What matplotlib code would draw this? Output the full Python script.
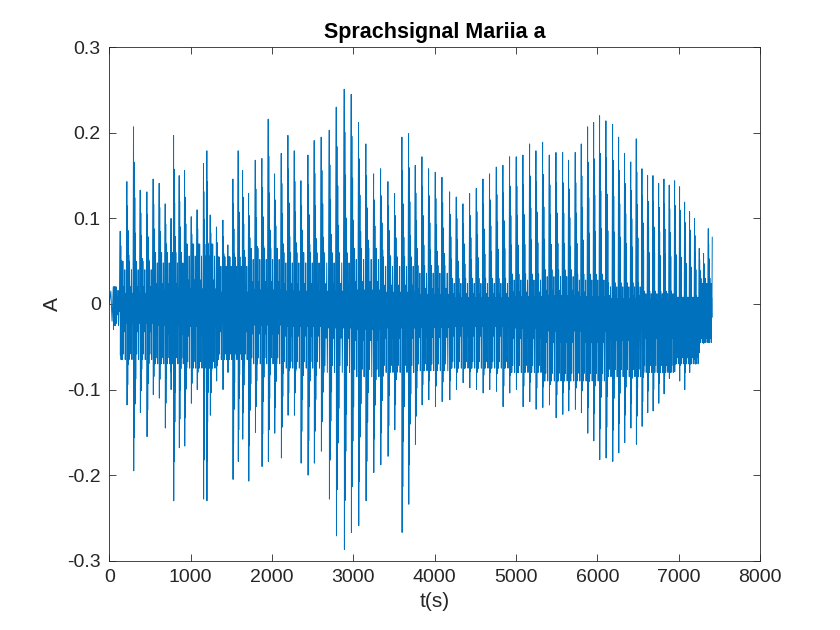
import matplotlib
matplotlib.use('Agg')
import matplotlib.pyplot as plt
import numpy as np

plt.rcParams['font.family'] = ['Liberation Sans', 'DejaVu Sans']
plt.rcParams['axes.unicode_minus'] = False

# pitch pulses: sample index, spike top, spike bottom
pulse_t = [50, 135, 217, 299, 381, 463, 540, 614, 688, 760, 791, 860, 926, 1008, 1080, 1159, 1200,
           1241, 1318, 1397, 1458, 1520, 1585, 1639, 1713, 1795, 1876, 1954, 2032, 2114, 2196, 2274, 2356, 2442, 2519,
           2605, 2704, 2790, 2888, 2974, 3064, 3154, 3249, 3335, 3425, 3507, 3597, 3679, 3761, 3843,
           3925, 4007, 4089, 4183, 4265, 4347, 4429, 4511, 4593, 4674, 4757, 4838, 4920, 5002, 5084, 5166,
           5244, 5326, 5408, 5490, 5572, 5645, 5727, 5801, 5879, 5953, 6026, 6104, 6186, 6260, 6333, 6409,
           6477, 6547, 6616, 6682, 6752, 6817, 6882, 6948, 7009, 7071, 7132, 7193, 7251, 7304, 7362, 7411]
pulse_hi = [0.02, 0.085, 0.143, 0.207, 0.133, 0.131, 0.146, 0.141, 0.117, 0.10, 0.197, 0.150, 0.156, 0.102, 0.11, 0.164, 0.179,
            0.104, 0.09, 0.098, 0.069, 0.146, 0.179, 0.156, 0.129, 0.168, 0.170, 0.216, 0.152, 0.176, 0.197, 0.179, 0.144, 0.174, 0.191,
            0.195, 0.203, 0.230, 0.251, 0.245, 0.212, 0.187, 0.152, 0.158, 0.143, 0.129, 0.195, 0.199, 0.162, 0.172,
            0.158, 0.154, 0.148, 0.131, 0.125, 0.117, 0.129, 0.135, 0.146, 0.152, 0.160, 0.162, 0.172, 0.172, 0.174, 0.187,
            0.179, 0.189, 0.174, 0.177, 0.177, 0.168, 0.177, 0.187, 0.207, 0.212, 0.220, 0.214, 0.210, 0.195, 0.176, 0.166,
            0.193, 0.158, 0.150, 0.150, 0.141, 0.146, 0.139, 0.144, 0.137, 0.119, 0.108, 0.100, 0.065, 0.059, 0.088, 0.078]
pulse_lo = [-0.03, -0.06, -0.118, -0.195, -0.127, -0.155, -0.106, -0.11, -0.145, -0.10, -0.230, -0.168, -0.166, -0.116, -0.10, -0.228, -0.230,
            -0.13, -0.09, -0.10, -0.08, -0.205, -0.184, -0.158, -0.207, -0.15, -0.19, -0.184, -0.151, -0.18, -0.13, -0.13, -0.186, -0.20, -0.186,
            -0.172, -0.228, -0.271, -0.287, -0.267, -0.259, -0.230, -0.197, -0.188, -0.178, -0.147, -0.267, -0.234, -0.164, -0.118,
            -0.112, -0.12, -0.114, -0.112, -0.10, -0.092, -0.098, -0.10, -0.104, -0.10, -0.102, -0.12, -0.104, -0.10, -0.12, -0.114,
            -0.123, -0.121, -0.118, -0.133, -0.129, -0.125, -0.123, -0.127, -0.151, -0.16, -0.182, -0.180, -0.184, -0.174, -0.162, -0.145,
            -0.164, -0.143, -0.127, -0.125, -0.116, -0.105, -0.087, -0.079, -0.09, -0.10, -0.08, -0.065, -0.057, -0.046, -0.011, -0.01]

# dense middle band of the signal, per stretch of samples
band_start = [0, 130, 500, 900, 1300, 1700, 2100, 2520, 2900, 3300, 3700, 4100,
              4500, 4900, 5300, 5700, 6100, 6500, 6900, 7200]
band_top = [0.02, 0.05, 0.06, 0.07, 0.055, 0.065, 0.06, 0.06, 0.065, 0.055, 0.045, 0.03,
            0.03, 0.035, 0.04, 0.035, 0.025, 0.015, 0.01, 0.03]
band_bot = [-0.025, -0.065, -0.07, -0.075, -0.065, -0.07, -0.075, -0.08, -0.085, -0.08, -0.078, -0.075,
            -0.075, -0.08, -0.09, -0.09, -0.085, -0.08, -0.07, -0.045]

# shape of one pitch period: ringing after the pulse, then the band
decay_hi = [0.8, 0.6, 0.4]
decay_lo = [0.8, 0.6, 0.45]
up_shape = [1.0, 0.4, 0.8, 0.25]
dn_shape = [0.9, 0.5, 1.0, 0.35]

t_pts = [0, 20, 35]
a_pts = [0.0, 0.015, -0.02]
for i in range(len(pulse_t) - 1):
    t0, t1 = pulse_t[i], pulse_t[i + 1]
    p = t1 - t0
    k = np.searchsorted(band_start, t0, side='right') - 1
    top, bot = band_top[k], band_bot[k]
    t_pts += [t0, t0 + 0.03 * p]
    a_pts += [pulse_hi[i], pulse_lo[i]]
    for j in range(len(decay_hi)):
        t_pts += [t0 + (0.09 + 0.10 * j) * p, t0 + (0.13 + 0.10 * j) * p]
        a_pts += [max(decay_hi[j] * pulse_hi[i], top), min(decay_lo[j] * pulse_lo[i], bot)]
    n = len(up_shape)
    for j in range(n):
        t_pts += [t0 + (0.40 + 0.58 * j / n) * p, t0 + (0.40 + 0.58 * (j + 0.5) / n) * p]
        a_pts += [top * up_shape[j], bot * dn_shape[j]]
t_pts.append(pulse_t[-1])
a_pts.append(pulse_hi[-1])

fig = plt.figure(figsize=(8.4, 6.3), dpi=100)
ax = fig.add_axes([0.13, 0.11, 0.775, 0.815])
ax.plot(t_pts, a_pts, color='#0072BD', linewidth=0.7)
ax.set_xlim(0, 8000)
ax.set_ylim(-0.3, 0.3)
ax.set_xticks(range(0, 8001, 1000))
ax.set_yticks([-0.3, -0.2, -0.1, 0, 0.1, 0.2, 0.3])
ax.set_yticklabels(['-0.3', '-0.2', '-0.1', '0', '0.1', '0.2', '0.3'])
ax.tick_params(direction='in', top=True, right=True, labelsize=14, colors='#262626',
               length=5, width=0.6, pad=6)
for s in ax.spines.values():
    s.set_color('#262626')
    s.set_linewidth(0.6)
ax.set_title('Sprachsignal Mariia a', fontsize=15.5, fontweight='bold', pad=7)
ax.set_xlabel('t(s)', fontsize=15, color='#262626')
ax.set_ylabel('A', fontsize=15, color='#262626')
fig.savefig('out.png', dpi=100)
